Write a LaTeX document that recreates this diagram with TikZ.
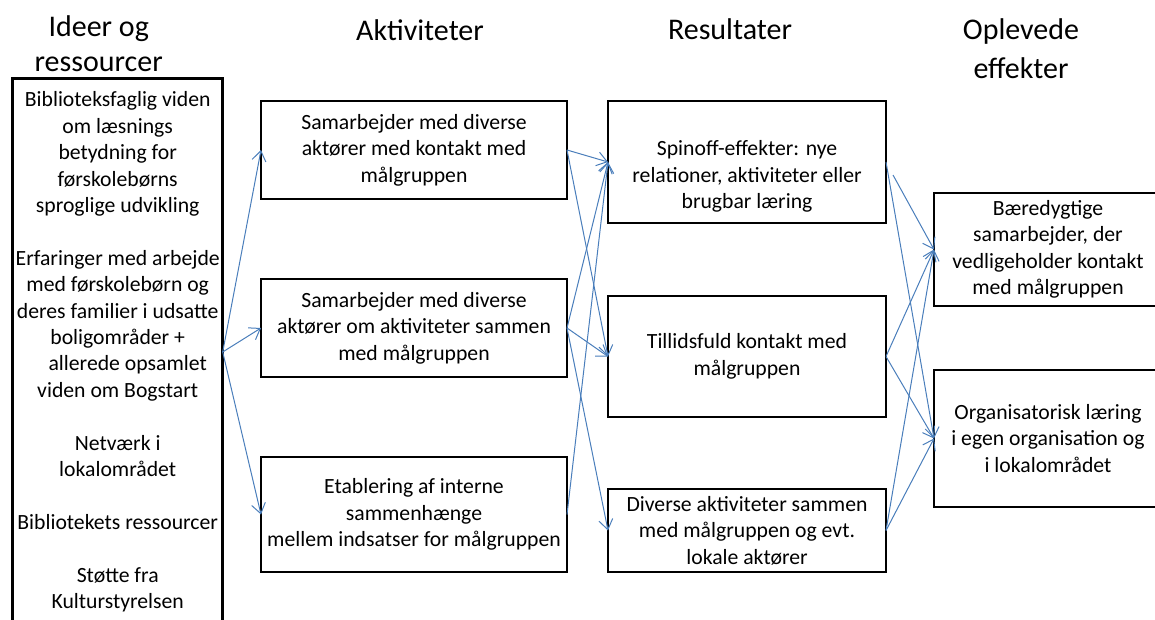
\documentclass[tikz,border=0pt]{standalone}
\usepackage{fontspec}
\setmainfont{Carlito}
\usetikzlibrary{%
  arrows.meta,%
  positioning,%
  calc%
}
\definecolor{pilblaa}{HTML}{4A7EBB}

\begin{document}
\begin{tikzpicture}[
    x=1pt, y=-1pt,
    tekst/.style={align=center, inner sep=0pt,
    font=\fontsize{21.7}{26.4}\selectfont},
    boks/.style={tekst, draw, line width=1.1pt, outer sep=0pt},
    titel/.style={anchor=base, inner sep=0pt, font=\fontsize{30}{35}\selectfont},
    pil/.style={draw=pilblaa, line width=1pt,
    -{Straight Barb[length=10pt,width=14pt]}}
]
    \useasboundingbox (0,0) rectangle (1155,620);
    % overskrifter
    \node[titel] (t1a) at (98.7,36.7) {Ideer og};
    \node[titel] (t1b) at (98.7,71.7) {ressourcer};
    \node[titel] (t2) at (420,40.7) {Aktiviteter};
    \node[titel] (t3) at (730,40) {Resultater};
    \node[titel] (t4a) at (1021,39.3) {Oplevede};
    \node[titel] (t4b) at (1021,78.3) {effekter};
    % ideer og ressourcer
    \node[boks, line width=3pt, minimum width=210pt, minimum height=546pt] (ress) at (117.7,352)
        {Biblioteksfaglig viden\\om læsnings\\betydning for\\førskolebørns\\sproglige udvikling\\[26.4pt]
         Erfaringer med arbejde\\med førskolebørn og\\deres familier i udsatte\\boligområder +\\\hspace*{20pt}allerede opsamlet\\viden om Bogstart\\[26.4pt]
         Netværk i\\lokalområdet\\[26.4pt]
         Bibliotekets ressourcer\\[26.4pt]
         Støtte fra\\Kulturstyrelsen};
    % aktiviteter
    \node[boks, minimum width=306pt, minimum height=98pt] (akt1) at (414,150)
        {Samarbejder med diverse\\aktører med kontakt med\\målgruppen};
    \node[boks, minimum width=306pt, minimum height=98pt, below=80pt of akt1] (akt2)
        {Samarbejder med diverse\\aktører om aktiviteter sammen\\med målgruppen};
    \node[boks, minimum width=306pt, minimum height=115pt, below=80pt of akt2] (akt3)
        {Etablering af interne\\sammenhænge\\mellem indsatser for målgruppen};
    % resultater
    \node[boks, minimum width=278pt, minimum height=122pt] (res1) at (747,162) {};
    \node[tekst] (res1tekst) at ([yshift=-14.5pt]res1)
        {Spinoff-effekter: nye\\relationer, aktiviteter eller\\brugbar læring};
    \node[boks, minimum width=278pt, minimum height=121pt, below=73pt of res1] (res2)
        {Tillidsfuld kontakt med\\målgruppen};
    \node[boks, minimum width=278pt, minimum height=83pt, below=72pt of res2] (res3)
        {Diverse aktiviteter sammen\\med målgruppen og evt.\\lokale aktører};
    % oplevede effekter
    \node[boks, minimum width=228pt, minimum height=113pt] (eff1) at (1048,249.5)
        {Bæredygtige\\samarbejder, der\\vedligeholder kontakt\\med målgruppen};
    \node[boks, minimum width=228pt, minimum height=137pt, below=64pt of eff1] (eff2)
        {Organisatorisk læring\\i egen organisation og\\i lokalområdet};
    % pile
    \foreach \a in {akt1,akt2,akt3}
        \draw[pil] (ress.east) -- (\a.west);
    \foreach \a/\r in {akt1/res1,akt1/res2,akt2/res1,akt2/res2,akt2/res3,akt3/res1}
        \draw[pil] (\a.east) -- (\r.west);
    \coordinate (res1ud) at ([shift={(7,13)}]res1.east);
    \draw[pil] (res1ud) -- (eff1.west);
    \foreach \r/\e in {res1/eff2,res2/eff1,res2/eff2,res3/eff1,res3/eff2}
        \draw[pil] (\r.east) -- (\e.west);
\end{tikzpicture}
\end{document}
